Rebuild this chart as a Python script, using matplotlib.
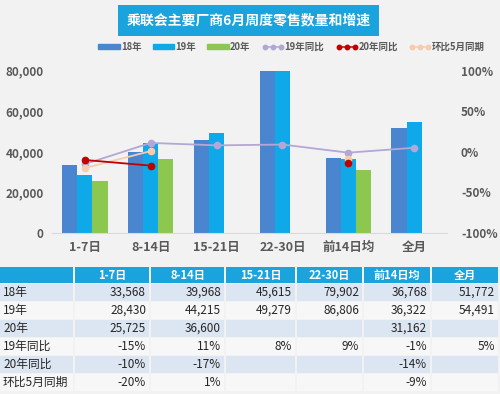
import numpy as np
import matplotlib
matplotlib.use("Agg")
import matplotlib.pyplot as plt
from matplotlib.patches import Patch, Rectangle
from matplotlib.lines import Line2D

plt.rcParams['font.family'] = ['Noto Sans CJK SC', 'DejaVu Sans']

# data
cats = ["1-7日", "8-14日", "15-21日", "22-30日", "前14日均", "全月"]
y18 = [33568, 39968, 45615, 79902, 36768, 51772]
y19 = [28430, 44215, 49279, 86806, 36322, 54491]
y20 = [25725, 36600, None, None, 31162, None]
yoy19 = [-15, 11, 8, 9, -1, 5]
yoy20 = [-10, -17, None, None, -14, None]
mom5 = [-20, 1, None, None, -9, None]

c18, c19, c20 = "#4a86d0", "#0fa8e8", "#8cc84f"
c_l19, c_l20, c_mom = "#b4a7d6", "#c00000", "#f8cbad"
bg = "#f2f2f2"
txt = "#595959"

def nan(v):
    return np.array([np.nan if x is None else x for x in v], dtype=float)

fig = plt.figure(figsize=(5, 3.94), dpi=100, facecolor=bg)
ax = fig.add_axes([0.104, 0.4086, 0.79, 0.412])
ax.set_facecolor(bg)
x = np.arange(len(cats))
w = 0.23
ax.bar(x - w, y18, w, color=c18, label="18年")
ax.bar(x, y19, w, color=c19, label="19年")
ax.bar(x + w, nan(y20), w, color=c20, label="20年")
ax.set_xlim(-0.5, len(cats) - 0.5)
ax.set_ylim(0, 80000)
ax.set_yticks([0, 20000, 40000, 60000, 80000])
ax.set_yticklabels([f"{v:,}" for v in [0, 20000, 40000, 60000, 80000]],
                   fontsize=8.5, fontweight="bold", color=txt)
ax.set_xticks(x)
ax.set_xticklabels(cats, fontsize=9, fontweight="bold", color=txt)
ax.tick_params(length=0, pad=6)
for s in ["top", "right", "left"]:
    ax.spines[s].set_visible(False)
ax.spines["bottom"].set_color("#d9d9d9")

ax2 = ax.twinx()
ax2.set_ylim(-100, 100)
ax2.plot(x, nan(yoy19), color=c_l19, marker="o", ms=4.5, lw=1.3)
ax2.plot(x, nan(mom5), color=c_mom, marker="o", ms=4.5, lw=1.3)
ax2.plot(x, nan(yoy20), color=c_l20, marker="o", ms=4.5, lw=1.3)
ax2.set_yticks([-100, -50, 0, 50, 100])
ax2.set_yticklabels([f"{v}%" for v in [-100, -50, 0, 50, 100]],
                    fontsize=8.5, fontweight="bold", color=txt)
ax2.tick_params(length=0, pad=10)
for s in ax2.spines.values():
    s.set_visible(False)

# title
fig.text(0.497, 0.948, "乘联会主要厂商6月周度零售数量和增速", ha="center", va="center",
         fontsize=10, fontweight="bold", color="white",
         bbox=dict(boxstyle="square,pad=0.6", fc="#1ba3dd", ec="none"))

# legend
handles = [Patch(color=c18), Patch(color=c19), Patch(color=c20),
           Line2D([], [], color=c_l19, marker="o", ms=3.2, lw=1.1),
           Line2D([], [], color=c_l20, marker="o", ms=3.2, lw=1.1),
           Line2D([], [], color=c_mom, marker="o", ms=3.2, lw=1.1)]
labels = ["18年", "19年", "20年", "19年同比", "20年同比", "环比5月同期"]
leg = fig.legend(handles, labels, loc="center", bbox_to_anchor=(0.583, 0.881), ncol=6,
                 frameon=False, handlelength=2.3, handleheight=0.35,
                 numpoints=3, columnspacing=1.2, handletextpad=0.1,
                 prop=dict(size=6.8, weight="bold"))
for t in leg.get_texts():
    t.set_color(txt)

# table
tb = fig.add_axes([0, 0, 1, 1], facecolor="none")
tb.set_xlim(0, 500)
tb.set_ylim(394, 0)
tb.axis("off")
cols = [0, 75, 151, 226, 297, 364, 432, 500]
rows = [267, 284, 302, 320, 338, 356, 374, 392]
rect_kw = dict(lw=0)
for j in range(7):
    tb.add_patch(Rectangle((cols[j], rows[0]), cols[j + 1] - cols[j] - 2, rows[1] - rows[0] - 1,
                           fc="#1ba3dd", **rect_kw))
    if j > 0:
        tb.text((cols[j] + cols[j + 1] - 2) / 2, (rows[0] + rows[1]) / 2 - 0.5, cats[j - 1],
                ha="center", va="center", color="white", fontsize=8, fontweight="bold")

row_names = ["18年", "19年", "20年", "19年同比", "20年同比", "环比5月同期"]
row_vals = [
    [f"{v:,}" for v in y18],
    [f"{v:,}" for v in y19],
    ["" if v is None else f"{v:,}" for v in y20],
    [f"{v}%" for v in yoy19],
    ["" if v is None else f"{v}%" for v in yoy20],
    ["" if v is None else f"{v}%" for v in mom5],
]
for i, (name, vals) in enumerate(zip(row_names, row_vals)):
    y0, y1 = rows[i + 1], rows[i + 2]
    fc = "#dce6f2" if i % 2 == 0 else "#f7f7f7"
    for j in range(7):
        tb.add_patch(Rectangle((cols[j], y0), cols[j + 1] - cols[j] - 2, y1 - y0 - 1,
                               fc=fc, **rect_kw))
    tb.text(3, (y0 + y1) / 2 - 0.5, name, ha="left", va="center", color="#262626", fontsize=8.5)
    for j, v in enumerate(vals):
        tb.text(cols[j + 2] - 5, (y0 + y1) / 2 - 0.5, v, ha="right", va="center",
                color="#262626", fontsize=8.5)

fig.savefig("out.png", dpi=100, facecolor=bg)
